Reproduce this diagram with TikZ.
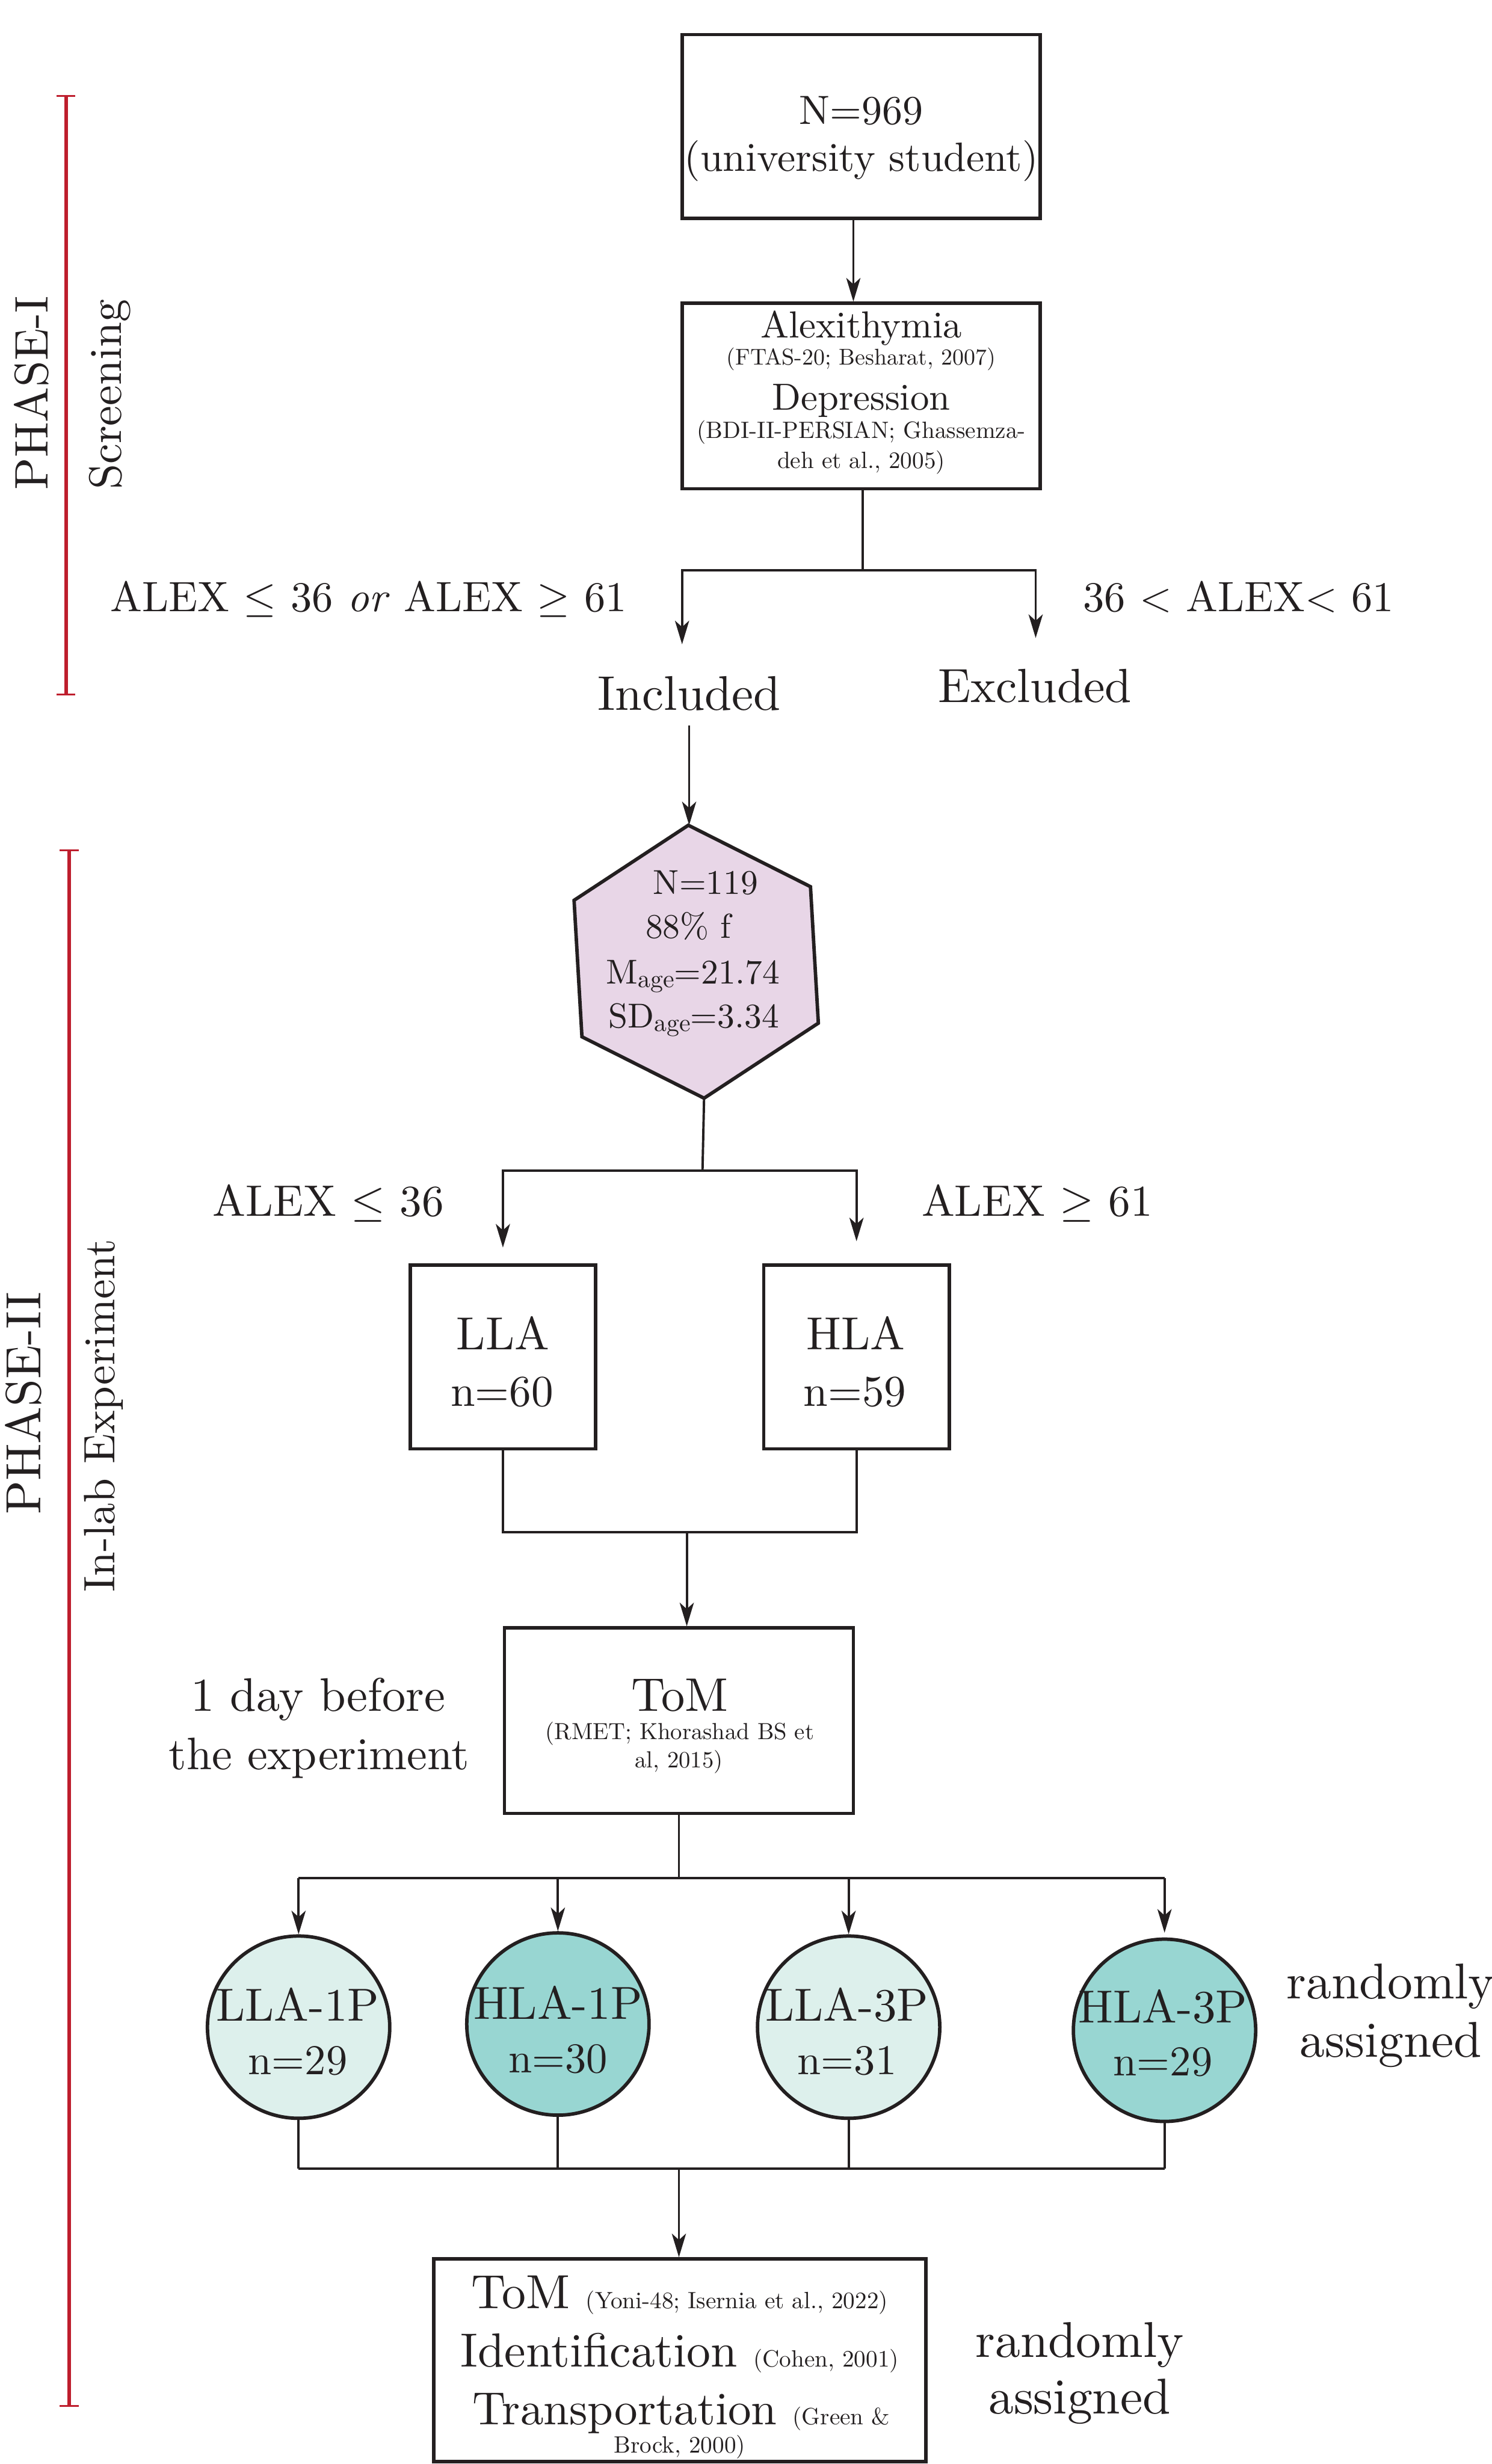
\RequirePackage{fix-cm}
\documentclass[tikz,border=0pt]{standalone}
\usepackage{fontspec}
\setmainfont{lmroman10-regular.otf}[ItalicFont=lmroman10-italic.otf, BoldFont=lmroman10-bold.otf]
\usetikzlibrary{arrows.meta}
\definecolor{phred}{HTML}{BE1E2D}
\definecolor{hexfill}{HTML}{E8D6E7}
\definecolor{lightc}{HTML}{DDF0EC}
\definecolor{darkc}{HTML}{98D6D2}
\definecolor{ink}{HTML}{231F20}
\newcommand{\fs}[1]{\fontsize{#1}{#1}\selectfont}
\newcommand{\agesub}{\raisebox{-2.5pt}{\fs{16}age}}
\begin{document}
\begin{tikzpicture}[x=1pt,y=-1pt, color=ink,
  box/.style={draw=ink, rectangle, line width=2.2pt, inner sep=0pt, fill=white},
  circ/.style={draw=ink, circle, line width=2.2pt, inner sep=0pt, minimum size=116pt},
  txt/.style={anchor=base, inner sep=0pt, text=ink},
  conn/.style={draw=ink, line width=1.5pt},
  arr/.style={-{Stealth[length=15pt,width=9pt,inset=4pt]}},
  bracket/.style={draw=phred, line width=2.2pt},
  bcap/.style={draw=phred, line width=1.2pt},
  sidetxt/.style={rotate=90, inner sep=0pt, anchor=center, text=ink}]
\useasboundingbox (0,0) rectangle (949,1568);

% ---------- side brackets ----------
\coordinate (r1t) at (42,61);  \coordinate (r1b) at (42,442);
\draw[bracket] (r1t) -- (r1b);
\draw[bcap] ([xshift=-6pt]r1t) -- ([xshift=6pt]r1t);
\draw[bcap] ([xshift=-6pt]r1b) -- ([xshift=6pt]r1b);
\node[sidetxt, font=\fs{30}] (ph1) at (20,250) {PHASE-I};
\node[sidetxt, font=\fs{29}] (scr) at (70,251) {Screening};

\coordinate (r2t) at (44,541); \coordinate (r2b) at (44,1531);
\draw[bracket] (r2t) -- (r2b);
\draw[bcap] ([xshift=-6pt]r2t) -- ([xshift=6pt]r2t);
\draw[bcap] ([xshift=-6pt]r2b) -- ([xshift=6pt]r2b);
\node[sidetxt, font=\fs{31.5}] (ph2) at (15,893) {PHASE-II};
\node[sidetxt, font=\fs{28}] (inlab) at (66,901) {In-lab Experiment};

% ---------- box 1 ----------
\node[box, minimum width=228pt, minimum height=117pt] (b1) at (548,80.5) {};
\node[txt, font=\fs{26}] (b1a) at (548,79) {N=969};
\node[txt, font=\fs{26}] (b1b) at (548,109) {(university student)};

% ---------- box 2 ----------
\node[box, minimum width=228pt, minimum height=118pt] (b2) at (548,252) {};
\node[txt, font=\fs{24}] (b2a) at (548,215) {Alexithymia};
\node[txt, font=\fs{14.5}] (b2b) at (548,232) {(FTAS-20; Besharat, 2007)};
\node[txt, font=\fs{24}] (b2c) at (548,261) {Depression};
\node[txt, font=\fs{15}] (b2d) at (548,279) {(BDI-II-PERSIAN; Ghassemza-};
\node[txt, font=\fs{15}] (b2e) at (548,298) {deh et al., 2005)};

\draw[conn, arr] ([xshift=-5pt]b1.south) -- ([xshift=-5pt]b2.north);

% ---------- screening split ----------
\coordinate (jn1) at (549,363);
\coordinate (incA) at (434,410);
\coordinate (excA) at (659,406);
\draw[conn] (b2.south -| jn1) -- (jn1);
\draw[conn, arr] (jn1) -| (incA);
\draw[conn, arr] (jn1) -| (excA);

\node[txt, font=\fs{27}] (cond1) at (234.5,389) {ALEX $\leq$ 36 \textit{or} ALEX $\geq$ 61};
\node[txt, font=\fs{27}] (cond2) at (788,389) {36 $<$ ALEX$<$ 61};
\node[txt, font=\fs{31}] (inc) at (438.5,452) {Included};
\node[txt, font=\fs{30.5}] (exc) at (658.5,447) {Excluded};

% ---------- hexagon ----------
\coordinate (hc) at (443,612);
\path[draw=ink, fill=hexfill, line width=2.2pt, line join=miter]
  (hc) +(266.7:87) coordinate (h1) -- +(326.7:87) -- +(26.7:87)
  -- +(86.7:87) coordinate (h4) -- +(146.7:87) -- +(206.7:87) -- cycle;
\draw[conn, arr] ([yshift=-9pt]inc.south) -- (inc.south |- h1);
\node[txt, font=\fs{22}] (hx1) at (449,569) {N=119};
\node[txt, font=\fs{22}] (hx2) at (438,597) {88\% f};
\node[txt, font=\fs{22}] (hx3) at (441,626) {M\agesub=21.74};
\node[txt, font=\fs{22}] (hx4) at (441.5,654) {SD\agesub=3.34};

% ---------- LLA / HLA ----------
\node[box, minimum width=118pt, minimum height=117pt] (lla) at (320,863.5) {};
\node[box, minimum width=118pt, minimum height=117pt] (hla) at (545,863.5) {};
\node[txt, font=\fs{29.5}] (llaa) at (320,859) {LLA};
\node[txt, font=\fs{28}] (llab) at (319.5,895) {n=60};
\node[txt, font=\fs{29.5}] (hlaa) at (544.5,859) {HLA};
\node[txt, font=\fs{28}] (hlab) at (544,895) {n=59};

\coordinate (jn2) at (447,745);
\draw[conn] (h4) -- (jn2);
\draw[conn, arr] (jn2) -| ([yshift=10pt]lla.north);
\draw[conn, arr] (jn2) -| ([yshift=14pt]hla.north);
\node[txt, font=\fs{28}] (cond3) at (209,774) {ALEX $\leq$ 36};
\node[txt, font=\fs{28}] (cond4) at (660,774) {ALEX $\geq$ 61};

% ---------- ToM (RMET) ----------
\node[box, minimum width=222pt, minimum height=118pt] (tom) at (432,1095) {};
\node[txt, font=\fs{30}] (toma) at (432.5,1089) {ToM};
\node[txt, font=\fs{14.8}] (tomb) at (432.5,1107) {(RMET; Khorashad BS et};
\node[txt, font=\fs{14.8}] (tomc) at (432,1125) {al, 2015)};
\node[txt, font=\fs{30}] (day1) at (202.5,1089) {1 day before};
\node[txt, font=\fs{29}] (day2) at (203,1126) {the experiment};

\coordinate (jn3) at (437,975);
\draw[conn] (lla.south) |- (jn3);
\draw[conn] (hla.south) |- (jn3);
\draw[conn, arr] (jn3) -- (jn3 |- tom.north);

% ---------- circles ----------
\node[circ, fill=lightc] (c1) at (190,1290) {};
\node[circ, fill=darkc]  (c2) at (355,1288) {};
\node[circ, fill=lightc] (c3) at (540,1290) {};
\node[circ, fill=darkc]  (c4) at (741,1292) {};
\node[txt, font=\fs{29.5}] (c1a) at (189.5,1286) {LLA-1P};
\node[txt, font=\fs{27}] (c1b) at (189.5,1320) {n=29};
\node[txt, font=\fs{29.5}] (c2a) at (355,1285) {HLA-1P};
\node[txt, font=\fs{27}] (c2b) at (355,1319) {n=30};
\node[txt, font=\fs{29.5}] (c3a) at (539,1286) {LLA-3P};
\node[txt, font=\fs{27}] (c3b) at (539,1320) {n=31};
\node[txt, font=\fs{29.5}] (c4a) at (740,1287) {HLA-3P};
\node[txt, font=\fs{27}] (c4b) at (740,1321) {n=29};
\node[txt, font=\fs{32}] (ra1) at (885,1272) {randomly};
\node[txt, font=\fs{32}] (ra2) at (885,1309) {assigned};

\coordinate (jn4) at (432,1195);
\draw[conn] (tom.south) -- (jn4);
\draw[conn] (c1.north |- jn4) -- (c4.north |- jn4);
\draw[conn, arr] (c1.north |- jn4) -- (c1.north);
\draw[conn, arr] (c2.north |- jn4) -- (c2.north);
\draw[conn, arr] (c3.north |- jn4) -- (c3.north);
\draw[conn, arr] (c4.north |- jn4) -- ([yshift=3pt]c4.north);

% ---------- final box ----------
\node[box, minimum width=313pt, minimum height=129pt] (fin) at (432.5,1502) {};
\node[txt, font=\fs{30.5}] (f1) at (432.5,1469) {ToM\,{\fs{15} (Yoni-48; Isernia et al., 2022)}};
\node[txt, font=\fs{30.5}] (f2) at (432.5,1506) {Identification\,{\fs{15} (Cohen, 2001)}};
\node[txt, font=\fs{29.5}] (f3) at (433.5,1543) {Transportation\,{\fs{15} (Green \&}};
\node[txt, font=\fs{15}] (f4) at (432.5,1561) {Brock, 2000)};
\node[txt, font=\fs{32}] (rb1) at (687,1500) {randomly};
\node[txt, font=\fs{32}] (rb2) at (687,1536) {assigned};

\coordinate (jn5) at (432,1380);
\draw[conn] (c1.south) -- (c1.south |- jn5);
\draw[conn] (c2.south) -- (c2.south |- jn5);
\draw[conn] (c3.south) -- (c3.south |- jn5);
\draw[conn] (c4.south) -- (c4.south |- jn5);
\draw[conn] (c1.south |- jn5) -- (c4.south |- jn5);
\draw[conn, arr] (jn5) -- (jn5 |- fin.north);
\end{tikzpicture}
\end{document}
